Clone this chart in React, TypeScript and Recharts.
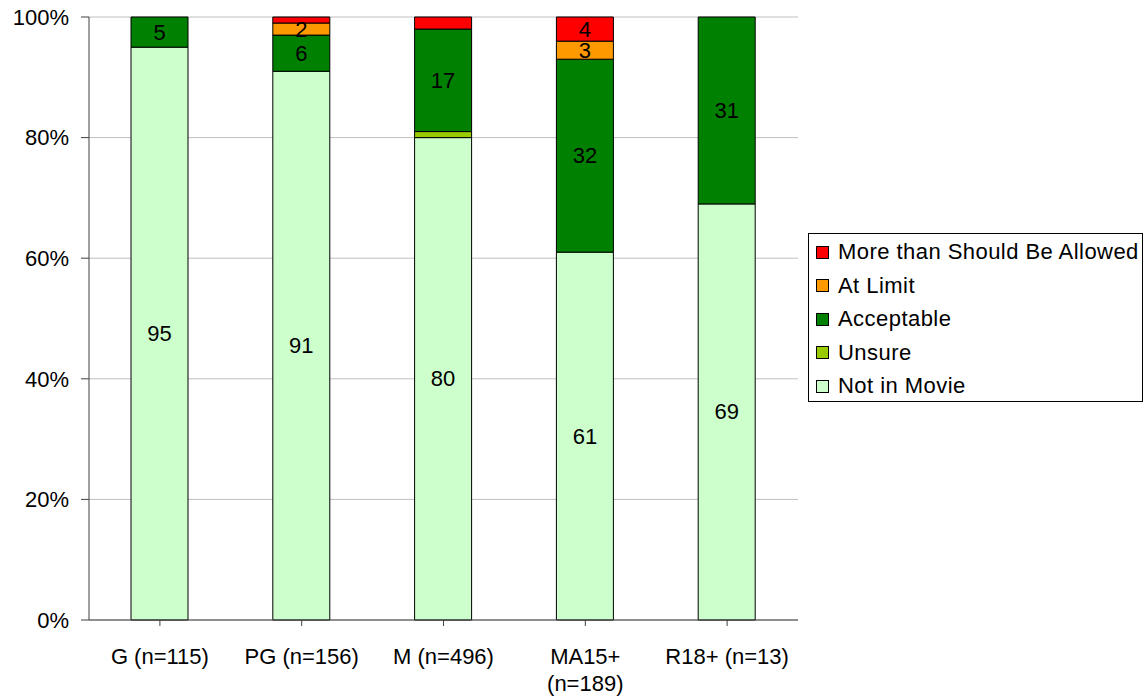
import React from 'react';
import { BarChart, Bar, XAxis, YAxis, CartesianGrid, LabelList } from 'recharts';

const categories = ['G (n=115)', 'PG (n=156)', 'M (n=496)', 'MA15+\n(n=189)', 'R18+ (n=13)'];
const notInMovie = [95, 91, 80, 61, 69];
const unsure = [0, 0, 1, 0, 0];
const acceptable = [5, 6, 17, 32, 31];
const atLimit = [0, 2, 0, 3, 0];
const moreThanAllowed = [0, 1, 2, 4, 0];
const yTicks = [0, 20, 40, 60, 80, 100];

// labels that the original chart leaves off
const unlabelled = [{ key: 'more', category: 'M (n=496)' }];

const series = [
  { key: 'notIn', name: 'Not in Movie', color: '#CCFFCC', values: notInMovie },
  { key: 'unsure', name: 'Unsure', color: '#99CC00', values: unsure },
  { key: 'ok', name: 'Acceptable', color: '#008000', values: acceptable },
  { key: 'limit', name: 'At Limit', color: '#FF9900', values: atLimit },
  { key: 'more', name: 'More than Should Be Allowed', color: '#FF0000', values: moreThanAllowed },
];

const data = categories.map((name, i) => {
  const row: any = { name };
  series.forEach((s) => (row[s.key] = s.values[i]));
  return row;
});

const FONT = '"Liberation Sans", Arial, sans-serif';

const labelValue = (key: string) => (entry: any) => {
  const p = entry && entry.payload;
  if (!p) return null;
  const v = p[key];
  if (!v || v < 2) return null;
  if (unlabelled.some((u) => u.key === key && u.category === p.name)) return null;
  return v;
};

const renderLabel = (props: any) => {
  const { x, y, width, height, value } = props;
  if (value === null || value === undefined || value === '') return null;
  return (
    <text
      x={x + width / 2}
      y={y + height / 2}
      textAnchor="middle"
      dominantBaseline="central"
      fontFamily={FONT}
      fontSize={22}
      fill="#000"
    >
      {value}
    </text>
  );
};

const CategoryTick = (props: any) => {
  const { x, y, payload } = props;
  const lines = String(payload.value).split('\n');
  return (
    <text x={x} y={y + 15} textAnchor="middle" fontFamily={FONT} fontSize={22} fill="#000">
      {lines.map((l, i) => (
        <tspan key={i} x={x} dy={i === 0 ? 21 : 27}>
          {l}
        </tspan>
      ))}
    </text>
  );
};

export default function App() {
  return (
    <div style={{ position: 'absolute', left: 0, top: 0, width: 1147, height: 698, background: '#fff' }}>
      <BarChart
        width={808}
        height={698}
        data={data}
        margin={{ top: 17, right: 10, left: 0, bottom: 0 }}
        barSize={57}
      >
        <CartesianGrid vertical={false} stroke="#BFBFBF" strokeWidth={1} />
        <XAxis
          dataKey="name"
          height={78}
          stroke="#404040"
          tickSize={6}
          tick={<CategoryTick />}
          interval={0}
        />
        <YAxis
          width={89}
          domain={[0, 100]}
          ticks={yTicks}
          tickFormatter={(v) => `${v}%`}
          stroke="#404040"
          tickSize={8}
          tickMargin={12}
          tick={{ fontFamily: FONT, fontSize: 22, fill: '#000' }}
          interval={0}
        />
        {series.map((s) => (
          <Bar
            key={s.key}
            dataKey={s.key}
            name={s.name}
            stackId="a"
            fill={s.color}
            stroke="#000"
            strokeWidth={1}
            isAnimationActive={false}
          >
            <LabelList valueAccessor={labelValue(s.key)} content={renderLabel} />
          </Bar>
        ))}
      </BarChart>
      <div
        style={{
          position: 'absolute',
          left: 808,
          top: 233,
          width: 333,
          height: 167,
          border: '1px solid #000',
          fontFamily: FONT,
          fontSize: 22,
          letterSpacing: 0.45,
          color: '#000',
          boxSizing: 'content-box',
        }}
      >
        {[...series].reverse().map((s, i) => (
          <div
            key={s.key}
            style={{
              position: 'absolute',
              left: 7,
              top: 4 + i * 33.6,
              height: 28,
              display: 'flex',
              alignItems: 'center',
              whiteSpace: 'nowrap',
            }}
          >
            <span
              style={{
                display: 'inline-block',
                width: 11,
                height: 11,
                background: s.color,
                border: '1px solid #000',
                marginRight: 9,
              }}
            />
            <span>{s.name}</span>
          </div>
        ))}
      </div>
    </div>
  );
}
